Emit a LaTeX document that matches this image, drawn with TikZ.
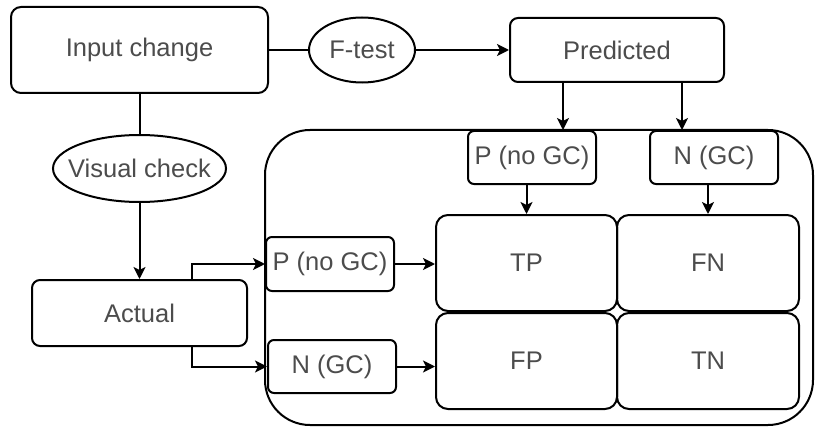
\documentclass[tikz,border=0pt]{standalone}
\usepackage{fontspec}
\setmainfont{Liberation Sans}
\usetikzlibrary{shapes.geometric,arrows.meta,calc}
\begin{document}
\begin{tikzpicture}[x=1pt,y=-1pt,
  line width=2pt,
  every node/.style={text=black!70,font=\fontsize{25.5}{30}\selectfont,inner sep=0pt},
  rbox/.style={draw=black,rectangle,rounded corners=#1},
  rbox/.default=8pt,
  oval/.style={draw=black,ellipse,inner xsep=-12pt},
  arr/.style={-{Stealth[length=12pt,width=12pt,inset=3pt]}},
]
\useasboundingbox (0,0) rectangle (815,428);

% outer container of the confusion matrix
\draw[rounded corners=45pt] (265,130) rectangle (813,425);

% top row
\node[rbox=10pt,minimum width=257pt,minimum height=86pt] (inp) at (139.5,50) {Input change};
\node[oval,minimum width=106pt,minimum height=65pt] (ftest) at (362,50) {F-test};
\node[rbox,minimum width=214pt,minimum height=64pt] (pred) at (617,50) {Predicted};

% left column
\node[oval,minimum width=173pt,minimum height=67pt] (vis) at (139.5,168.5) {Visual check};
\node[rbox,minimum width=215pt,minimum height=66pt] (act) at (139.5,313) {Actual};

% predicted class headers
\node[rbox=6pt,minimum width=128pt,minimum height=53pt] (ptop) at (532,157.5) {P (no GC)};
\node[rbox=6pt,minimum width=128pt,minimum height=53pt] (ntop) at (714,157.5) {N (GC)};

% actual class headers
\node[rbox=6pt,minimum width=128pt,minimum height=54pt] (pleft) at (330,264) {P (no GC)};
\node[rbox=6pt,minimum width=128pt,minimum height=53pt] (nleft) at (332,366.5) {N (GC)};

% matrix cells
\node[rbox=12pt,minimum width=181pt,minimum height=96pt] (tp) at (526.5,263) {TP};
\node[rbox=12pt,minimum width=182pt,minimum height=96pt] (fn) at (708,263) {FN};
\node[rbox=12pt,minimum width=181pt,minimum height=96pt] (fp) at (526.5,361) {FP};
\node[rbox=12pt,minimum width=182pt,minimum height=96pt] (tn) at (708,361) {TN};

% connectors
\draw (inp) -- (ftest);
\draw[arr] (ftest) -- (pred);
\draw (inp) -- (vis);
\draw[arr] (vis) -- (act);

\draw[arr] ([xshift=-54pt]pred.south) -- ([xshift=-54pt]pred.south |- ptop.north);
\draw[arr] ([xshift=65pt]pred.south) -- ([xshift=65pt]pred.south |- ntop.north);

\draw[arr] (tp.north |- ptop.south) -- (tp.north);
\draw[arr] (fn.north |- ntop.south) -- (fn.north);

\draw[arr] ([xshift=52pt]act.north) |- (pleft.west);
\draw[arr] ([xshift=52pt]act.south) |- (nleft.west);

\draw[arr] (pleft.east) -- (pleft.east -| tp.west);
\draw[arr] (nleft.east) -- (nleft.east -| fp.west);
\end{tikzpicture}
\end{document}
